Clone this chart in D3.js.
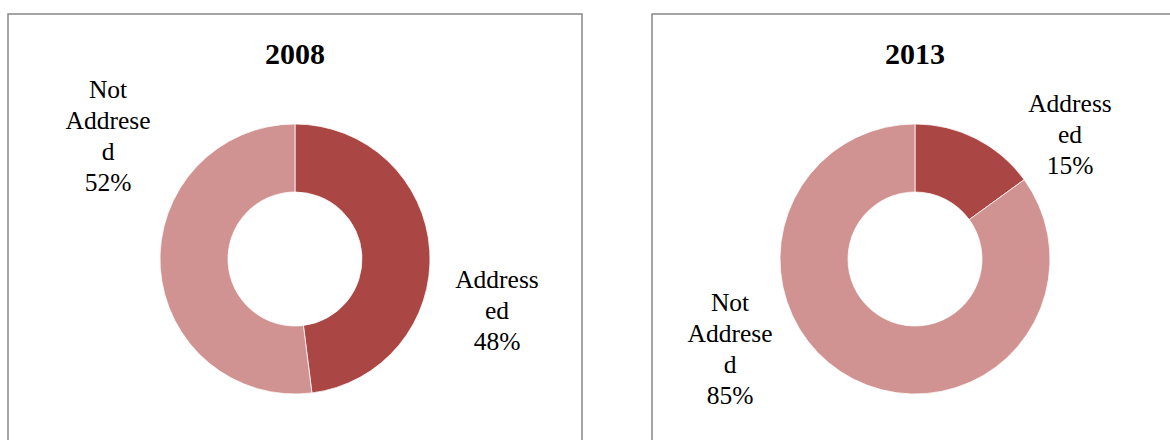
<!DOCTYPE html>
<html>
<head>
<meta charset="utf-8">
<script src="https://cdn.jsdelivr.net/npm/d3@7"></script>
<style>
  html, body { margin: 0; padding: 0; background: #fff; }
  svg { display: block; }
  text { font-family: "Liberation Serif", "Times New Roman", serif; fill: #000; }
</style>
</head>
<body>
<svg id="chart" width="1170" height="440"></svg>
<script>
// Survey results: share of items addressed vs. not addressed
const years = ["2008", "2013"];
const categories = ["Addressed", "Not Addresed"];
const values2008 = [48, 52];
const values2013 = [15, 85];
// Wrapped label text as it appears beside each slice
const labelLines = [["Address", "ed"], ["Not", "Addrese", "d"]];

const colors = d3.scaleOrdinal().domain(categories).range(["#AA4643", "#D19392"]);

// Panel frames and label anchors (centre x and first baseline y, relative to the donut centre)
const panels = [
  { x: 8, y: 14, w: 574, h: 440, cx: 295, cy: 259, values: values2008,
    anchors: [[202, 29], [-187, -161]] },
  { x: 652, y: 14, w: 530, h: 440, cx: 915, cy: 259, values: values2013,
    anchors: [[155, -147], [-185, 52]] }
];

const svg = d3.select("#chart");
const outerR = 135, innerR = 67;
const pie = d3.pie().sort(null).value(d => d.value);
const arc = d3.arc().innerRadius(innerR).outerRadius(outerR);
const lineH = 31, fontSize = 25.5;

panels.forEach((p, i) => {
  svg.append("rect")
    .attr("x", p.x).attr("y", p.y).attr("width", p.w).attr("height", p.h)
    .attr("fill", "#fff").attr("stroke", "#878787").attr("stroke-width", 1.5);

  svg.append("text")
    .attr("x", p.cx).attr("y", 64)
    .attr("text-anchor", "middle")
    .attr("font-size", 30).attr("font-weight", "bold")
    .text(years[i]);

  const data = categories.map((c, k) => ({ name: c, value: p.values[k] }));
  const g = svg.append("g").attr("transform", `translate(${p.cx},${p.cy})`);

  g.selectAll("path").data(pie(data)).join("path")
    .attr("d", arc)
    .attr("fill", d => colors(d.data.name))
    .attr("stroke", "#fff").attr("stroke-width", 0.75);

  data.forEach((d, k) => {
    const lines = labelLines[k].concat([d.value + "%"]);
    const [ax, ay] = p.anchors[k];
    const t = g.append("text")
      .attr("text-anchor", "middle")
      .attr("font-size", fontSize);
    lines.forEach((ln, j) => {
      t.append("tspan").attr("x", ax).attr("y", ay + j * lineH).text(ln);
    });
  });
});
</script>
</body>
</html>
